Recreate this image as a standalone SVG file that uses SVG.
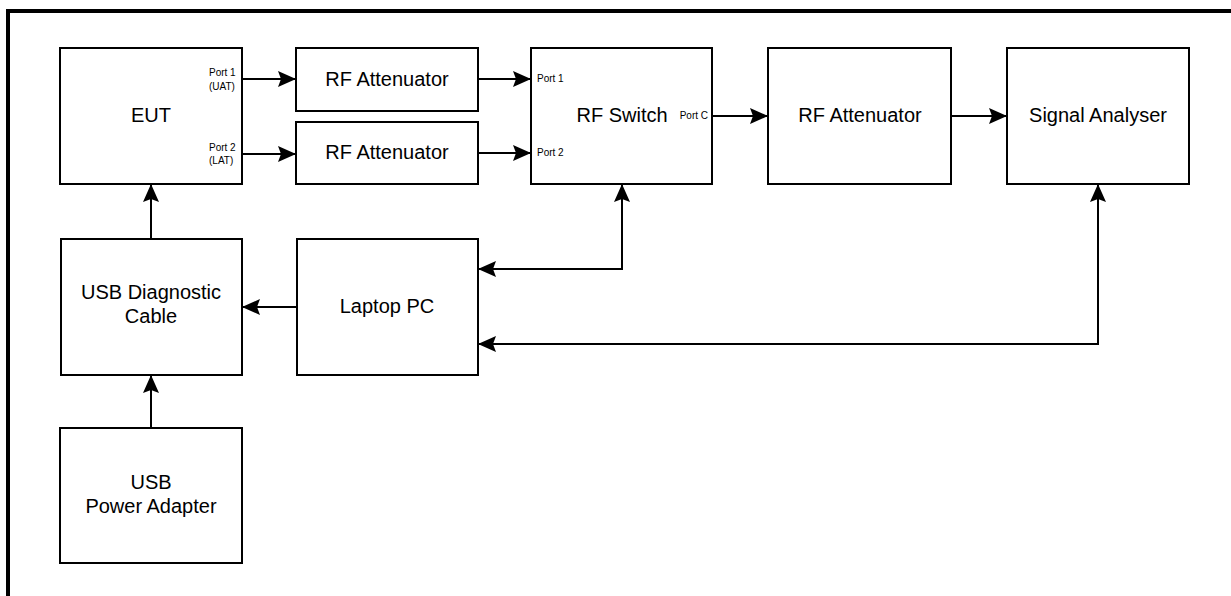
<svg xmlns="http://www.w3.org/2000/svg" width="1231" height="596" viewBox="0 0 1231 596">
<style>
.box{fill:#fff;stroke:#000;stroke-width:2}
.t{font-family:"Liberation Sans",Arial,sans-serif;font-size:20px;fill:#000;text-anchor:middle}
.p{font-family:"Liberation Sans",Arial,sans-serif;font-size:10px;fill:#000}
.c{fill:none;stroke:#000;stroke-width:2}
</style>
<defs>
<marker id="ah" markerUnits="userSpaceOnUse" markerWidth="20" markerHeight="18" viewBox="0 0 20 18" refX="18" refY="9" orient="auto-start-reverse">
<path d="M0,1 L18,9 L0,17 L3,9 Z" fill="#000"/>
</marker>
</defs>
<path d="M8,596 V11 H1231" fill="none" stroke="#000" stroke-width="4"/>
<g id="eut"><rect class="box" x="60" y="48" width="182" height="136"/><text class="t" x="151" y="122">EUT</text>
<text class="p" x="209" y="76">Port 1</text><text class="p" x="209" y="90">(UAT)</text>
<text class="p" x="209" y="151">Port 2</text><text class="p" x="209" y="164">(LAT)</text></g>
<g id="att1"><rect class="box" x="296" y="48" width="182" height="63"/><text class="t" x="387" y="86">RF Attenuator</text></g>
<g id="att2"><rect class="box" x="296" y="122" width="182" height="62"/><text class="t" x="387" y="159">RF Attenuator</text></g>
<g id="switch"><rect class="box" x="531" y="48" width="181" height="136"/><text class="t" x="622" y="122">RF Switch</text>
<text class="p" x="537" y="82">Port 1</text><text class="p" x="537" y="156">Port 2</text><text class="p" x="708" y="119" text-anchor="end">Port C</text></g>
<g id="att3"><rect class="box" x="768" y="48" width="183" height="136"/><text class="t" x="860" y="122">RF Attenuator</text></g>
<g id="analyser"><rect class="box" x="1007" y="48" width="182" height="136"/><text class="t" x="1098" y="122">Signal Analyser</text></g>
<g id="usbdiag"><rect class="box" x="61" y="239" width="181" height="136"/><text class="t" x="151" y="299">USB Diagnostic</text><text class="t" x="151" y="323">Cable</text></g>
<g id="laptop"><rect class="box" x="297" y="239" width="181" height="136"/><text class="t" x="387" y="313">Laptop PC</text></g>
<g id="power"><rect class="box" x="60" y="428" width="182" height="135"/><text class="t" x="151" y="489">USB</text><text class="t" x="151" y="513">Power Adapter</text></g>
<g id="connectors">
<path class="c" d="M243,79 H296" marker-end="url(#ah)"/>
<path class="c" d="M243,154 H296" marker-end="url(#ah)"/>
<path class="c" d="M479,79 H531" marker-end="url(#ah)"/>
<path class="c" d="M479,153 H531" marker-end="url(#ah)"/>
<path class="c" d="M713,116 H768" marker-end="url(#ah)"/>
<path class="c" d="M952,116 H1007" marker-end="url(#ah)"/>
<path class="c" d="M151,239 V184" marker-end="url(#ah)"/>
<path class="c" d="M151,428 V375" marker-end="url(#ah)"/>
<path class="c" d="M297,307 H242" marker-end="url(#ah)"/>
<path class="c" d="M478,269 H622 V184" marker-start="url(#ah)" marker-end="url(#ah)"/>
<path class="c" d="M478,344 H1098 V184" marker-start="url(#ah)" marker-end="url(#ah)"/>
</g>
</svg>
